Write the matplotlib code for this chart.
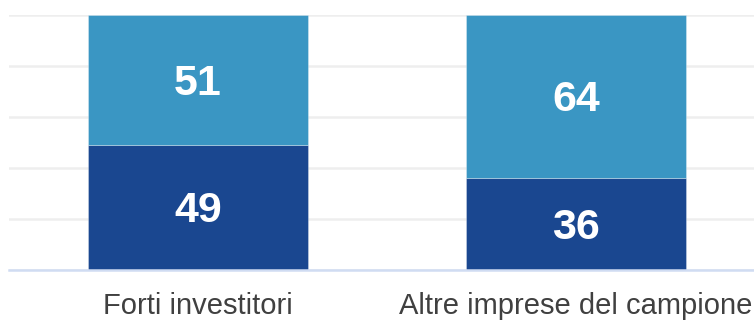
import matplotlib
matplotlib.use("Agg")
import matplotlib.pyplot as plt

categories = ["Forti investitori", "Altre imprese del campione"]
bottom_vals = [49, 36]
top_vals = [51, 64]
ticks = [0, 20, 40, 60, 80, 100]

W, H = 754, 320
fig = plt.figure(figsize=(W / 100, H / 100), dpi=100)
left = 9 / W
right = 765 / W
bot = (H - 270) / H
top = (H - 15) / H
ax = fig.add_axes([left, bot, right - left, top - bot])

x = list(range(len(categories)))
dark = "#1a4790"
light = "#3a96c3"
bw = 220 / 378

ax.bar(x, bottom_vals, width=bw, color=dark, edgecolor=(1, 1, 1, 0.35), linewidth=0.6, zorder=3)
ax.bar(x, top_vals, width=bw, bottom=bottom_vals, color=light, edgecolor=(1, 1, 1, 0.35), linewidth=0.6, zorder=3)

for i in x:
    ax.text(i, bottom_vals[i] / 2 - 1.5, str(bottom_vals[i]), ha="center", va="center",
            color="white", fontsize=31, fontweight="bold", family="Liberation Sans", zorder=4)
    ax.text(i, bottom_vals[i] + top_vals[i] / 2 - 1.5, str(top_vals[i]), ha="center", va="center",
            color="white", fontsize=31, fontweight="bold", family="Liberation Sans", zorder=4)

ax.set_xlim(-0.5, 1.5)
ax.set_ylim(0, 100)
ax.set_yticks(ticks)
ax.yaxis.grid(True, color="#eeeeee", linewidth=1.8, zorder=0)
ax.set_axisbelow(True)
ax.tick_params(axis="y", left=False, labelleft=False)
ax.set_xticks(x)
ax.set_xticklabels(categories, fontsize=21, color="#404040", family="Liberation Sans")
ax.tick_params(axis="x", length=0, pad=16)
for s in ["top", "right", "left"]:
    ax.spines[s].set_visible(False)
ax.spines["bottom"].set_color("#d0dcf2")
ax.spines["bottom"].set_linewidth(1.8)
ax.spines["bottom"].set_zorder(5)

fig.savefig("out.png", dpi=100)
